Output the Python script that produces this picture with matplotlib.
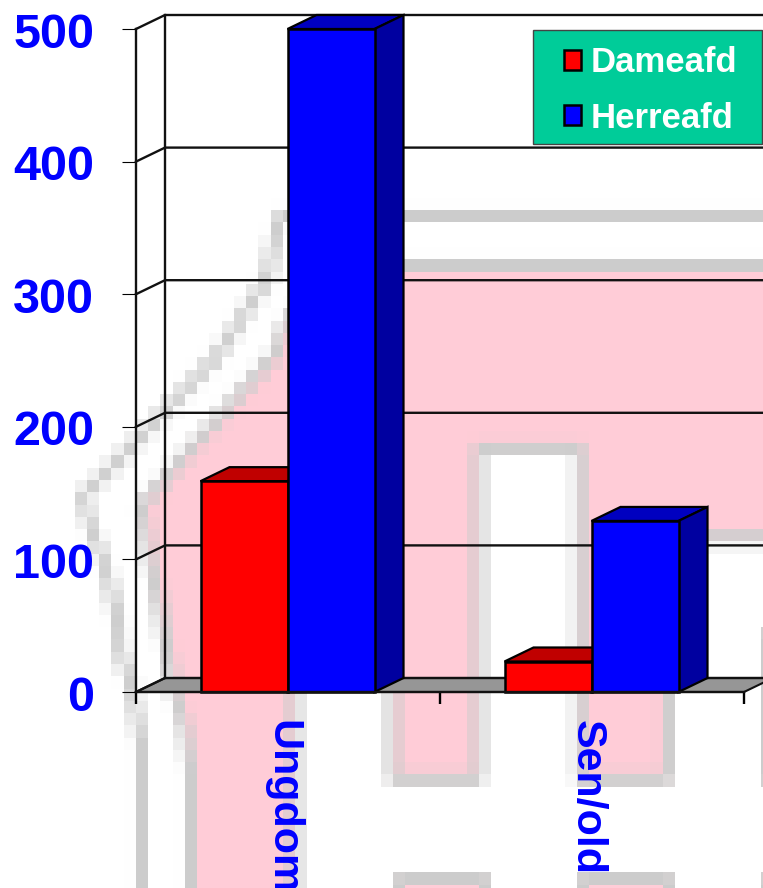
import numpy as np
import matplotlib
matplotlib.use('Agg')
import matplotlib.pyplot as plt
from matplotlib.backends.backend_agg import FigureCanvasAgg
from matplotlib.figure import Figure
from matplotlib.patches import Patch, Polygon, Rectangle
from matplotlib.transforms import ScaledTranslation

plt.rcParams['font.family'] = ['Liberation Sans', 'DejaVu Sans']
plt.rcParams['font.weight'] = 'bold'

W, H = 763, 888

categories = ['Ungdom', 'Sen/old']
dameafd = [159, 23]
herreafd = [500, 129]
y_ticks = [0, 100, 200, 300, 400, 500]

# watermark outline in image pixels, gets pixelated below
pink_shape = [(345, 266), (790, 266), (790, 538), (668, 538), (668, 779), (580, 779),
              (580, 449), (479, 449), (479, 779), (393, 779), (393, 600), (295, 600),
              (295, 910), (191, 910), (191, 770), (185, 730), (172, 680), (160, 610),
              (150, 560), (142, 505), (277, 353), (285, 325)]
outer_line = [(790, 217), (280, 217), (267, 280), (217, 357), (107, 473), (82, 497),
              (92, 530), (105, 565), (118, 617), (120, 650), (130, 680), (142, 745), (142, 910)]
low_shapes = [[(393, 875), (479, 875), (479, 910), (393, 910)],
              [(580, 875), (668, 875), (668, 910), (580, 910)],
              [(762, 633), (800, 633), (800, 779), (762, 779)],
              [(762, 875), (800, 875), (800, 910), (762, 910)]]


def watermark():
    # cells of 12.25 px, drawn small so the antialiasing gives the pale blocks
    cell = 12.25
    x0, y0 = 1.25 - cell, 2.75 - cell
    cols, rows = 65, 74
    f = Figure(figsize=(cols, rows), dpi=1)
    canvas = FigureCanvasAgg(f)
    a = f.add_axes([0, 0, 1, 1])
    a.set_xlim(x0, x0 + cols * cell)
    a.set_ylim(y0 + rows * cell, y0)
    a.axis('off')
    lw = 72  # one cell wide at dpi 1
    for pts in [pink_shape] + low_shapes:
        a.add_patch(Polygon(pts, closed=True, fc='#ffccd7', ec='#cccccc', lw=lw, joinstyle='miter'))
    xs, ys = zip(*outer_line)
    a.plot(xs, ys, color='#cccccc', lw=lw, solid_joinstyle='miter')
    canvas.draw()
    img = np.asarray(canvas.buffer_rgba())
    return img, (x0, x0 + cols * cell, y0 + rows * cell, y0)


fig = plt.figure(figsize=(W / 100, H / 100), dpi=100)

bg = fig.add_axes([0, 0, 1, 1], zorder=0)
img, ext = watermark()
bg.imshow(img, extent=ext, interpolation='nearest', aspect='auto')
bg.set_xlim(0, W)
bg.set_ylim(H, 0)
bg.axis('off')

ax = fig.add_axes([136 / W, 1 - 692 / H, 608 / W, 663 / H], zorder=1)
ax.patch.set_alpha(0)
ax.set_xlim(0, 2)
ax.set_ylim(0, 500)

dx = 29 / 304
dy = 14 * 500 / 663
line = '#111111'

# floor
ax.add_patch(Polygon([(0, 0), (dx, dy), (2 + dx, dy), (2, 0)], closed=True,
                     fc='#969696', ec=line, lw=1.5, clip_on=False, zorder=1))

# walls
for v in y_ticks:
    ax.plot([0, dx, 2 + dx], [v, v + dy, v + dy], color=line, lw=1.7, clip_on=False, zorder=1)
ax.plot([dx, dx], [dy, 500 + dy], color=line, lw=1.7, clip_on=False, zorder=1)

width = 87 / 304


def box(x, val, front, top, side, z):
    ax.add_patch(Polygon([(x, val), (x + dx, val + dy), (x + width + dx, val + dy), (x + width, val)],
                         closed=True, fc=top, ec='black', lw=1.6, clip_on=False, zorder=z))
    ax.add_patch(Polygon([(x + width, 0), (x + width + dx, dy), (x + width + dx, val + dy), (x + width, val)],
                         closed=True, fc=side, ec='black', lw=1.6, clip_on=False, zorder=z))
    ax.bar(x, val, width, align='edge', color=front, edgecolor='black', lw=1.8, clip_on=False, zorder=z + 0.1)


centers = np.arange(len(categories)) + 0.5 - 0.5 / 304
for c, d, h in zip(centers, dameafd, herreafd):
    box(c - width, d, '#ff0000', '#c00000', '#a00000', 2)
    box(c, h, '#0000ff', '#0000c0', '#0000a0', 3)

for s in ['top', 'right']:
    ax.spines[s].set_visible(False)
for s in ['left', 'bottom']:
    ax.spines[s].set_linewidth(1.7)
    ax.spines[s].set_color(line)
ax.spines['bottom'].set_zorder(5)

ax.set_yticks(y_ticks)
ax.tick_params(axis='y', length=10, width=0.8, pad=20, labelsize=35, labelcolor='#0000ff')
for t in ax.get_yticklabels():
    t.set_transform(t.get_transform() + ScaledTranslation(0, -1 / 100, fig.dpi_scale_trans))
ax.set_xticks([0, 1, 2])
ax.set_xticklabels([])
ax.tick_params(axis='x', which='major', length=8.5, width=1.7)
ax.set_xticks(centers, minor=True)
ax.set_xticklabels(categories, minor=True, rotation=-90, color='#0000ff', fontsize=31, va='top', ha='center')
ax.tick_params(axis='x', which='minor', length=0, pad=20)
for t in ax.get_xticklabels(minor=True):
    t.set_transform(t.get_transform() + ScaledTranslation(-5 / 100, 0, fig.dpi_scale_trans))

fig.add_artist(Rectangle((533 / W, 1 - 144 / H), 229 / W, 114 / H, transform=fig.transFigure,
                         fc='#00cc99', ec='#444444', lw=1, zorder=5))
handles = [Patch(fc='#ff0000', ec='black', lw=1.8, label='Dameafd'),
           Patch(fc='#0000ff', ec='black', lw=1.8, label='Herreafd')]
leg = ax.legend(handles=handles, loc='upper left', bbox_to_anchor=(564 / W, 1 - 46 / H),
                bbox_transform=fig.transFigure, borderaxespad=0, fontsize=25,
                frameon=False, handlelength=0.5, handleheight=0.5, handletextpad=0.27,
                labelspacing=0.65, borderpad=0, labelcolor='white')
leg.set_zorder(6)
ax.set_zorder(6)

fig.savefig('out.png', dpi=100)
